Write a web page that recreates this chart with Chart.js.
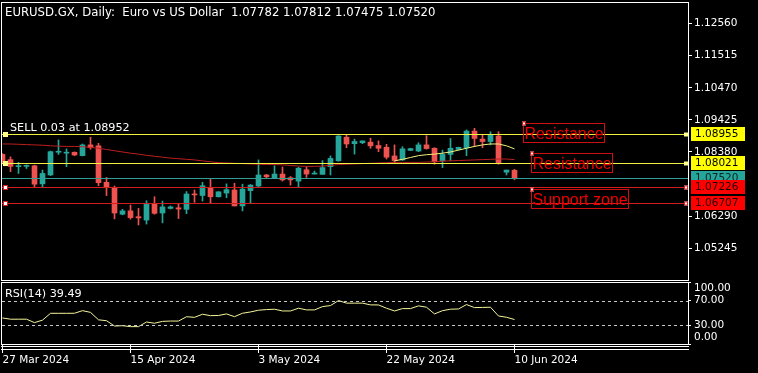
<!DOCTYPE html>
<html>
<head>
<meta charset="utf-8">
<title>EURUSD.GX Daily</title>
<script src="https://cdn.jsdelivr.net/npm/chart.js@4.4.1/dist/chart.umd.min.js"></script>
<style>
	html, body { margin: 0; padding: 0; background: #000; }
	.painel { position: relative; width: 758px; height: 373px; background: #000; overflow: hidden; }
	#graficoPreco { position: absolute; left: 0; top: 0; }
	#graficoRsi { position: absolute; left: 0; top: 281px; }
</style>
</head>
<body>
<div class="painel">
	<canvas id="graficoPreco" width="758" height="282"></canvas>
	<canvas id="graficoRsi" width="758" height="92"></canvas>
</div>
<script>
// daily bars, broker has sunday bars
var dates = ['27 Mar 2024','28 Mar 2024','29 Mar 2024','31 Mar 2024','1 Apr 2024','2 Apr 2024','3 Apr 2024','4 Apr 2024','5 Apr 2024','7 Apr 2024',
	'8 Apr 2024','9 Apr 2024','10 Apr 2024','11 Apr 2024','12 Apr 2024','14 Apr 2024','15 Apr 2024','16 Apr 2024','17 Apr 2024','18 Apr 2024',
	'19 Apr 2024','21 Apr 2024','22 Apr 2024','23 Apr 2024','24 Apr 2024','25 Apr 2024','26 Apr 2024','28 Apr 2024','29 Apr 2024','30 Apr 2024',
	'1 May 2024','2 May 2024','3 May 2024','5 May 2024','6 May 2024','7 May 2024','8 May 2024','9 May 2024','10 May 2024','12 May 2024',
	'13 May 2024','14 May 2024','15 May 2024','16 May 2024','17 May 2024','19 May 2024','20 May 2024','21 May 2024','22 May 2024','23 May 2024',
	'24 May 2024','26 May 2024','27 May 2024','28 May 2024','29 May 2024','30 May 2024','31 May 2024','2 Jun 2024','3 Jun 2024','4 Jun 2024',
	'5 Jun 2024','6 Jun 2024','7 Jun 2024','9 Jun 2024','10 Jun 2024'];

var opens = [1.0830,1.0813,1.0790,1.0791,1.0793,1.0734,1.0763,1.0837,1.0834,1.0837,
	1.0826,1.0861,1.0858,1.0739,1.0722,1.0635,1.0646,1.0627,1.0616,1.0669,
	1.0639,1.0654,1.0656,1.0651,1.0701,1.0696,1.0722,1.0692,1.0704,1.0714,
	1.0662,1.0712,1.0727,1.0763,1.0752,1.0766,1.0754,1.0743,1.0780,1.0766,
	1.0765,1.0790,1.0809,1.0886,1.0865,1.0868,1.0870,1.0859,1.0853,1.0825,
	1.0812,1.0843,1.0841,1.0861,1.0850,1.0809,1.0830,1.0846,1.0852,1.0906,
	1.0880,1.0872,1.0890,1.0772,1.07782];
var highs = [1.0833,1.0822,1.0804,1.0796,1.0795,1.0779,1.0841,1.0877,1.0848,1.0838,
	1.0864,1.0886,1.0866,1.0755,1.0727,1.0651,1.0665,1.0654,1.0679,1.0692,
	1.0678,1.0662,1.0670,1.0709,1.0714,1.0739,1.0752,1.0709,1.0734,1.0736,
	1.0733,1.0732,1.0812,1.0765,1.0793,1.0789,1.0758,1.0788,1.0790,1.0776,
	1.0810,1.0825,1.0891,1.0893,1.0880,1.0874,1.0883,1.0874,1.0863,1.0861,
	1.0855,1.0850,1.0868,1.0891,1.0852,1.0844,1.0882,1.0854,1.0910,1.0915,
	1.0893,1.0904,1.0904,1.0779,1.07812];
var lows = [1.0799,1.0774,1.0768,1.0784,1.0725,1.0723,1.0761,1.0830,1.0790,1.0826,
	1.0825,1.0847,1.0728,1.0696,1.0620,1.0633,1.0619,1.0600,1.0603,1.0635,
	1.0607,1.0652,1.0621,1.0637,1.0674,1.0678,1.0671,1.0691,1.0689,1.0662,
	1.0646,1.0671,1.0725,1.0754,1.0752,1.0743,1.0730,1.0725,1.0755,1.0766,
	1.0765,1.0763,1.0808,1.0852,1.0831,1.0865,1.0850,1.0839,1.0815,1.0803,
	1.0810,1.0842,1.0839,1.0847,1.0798,1.0787,1.0810,1.0844,1.0826,1.0855,
	1.0852,1.0861,1.0798,1.0763,1.07475];
var closes = [1.0801,1.0791,1.0792,1.0793,1.0733,1.0768,1.0839,1.0839,1.0837,1.0828,
	1.0861,1.0852,1.0738,1.0723,1.0639,1.0646,1.0624,1.0623,1.0669,1.0638,
	1.0659,1.0659,1.0652,1.0701,1.0698,1.0728,1.0692,1.0708,1.0715,1.0662,
	1.0717,1.0730,1.0763,1.0757,1.0766,1.0747,1.0747,1.0785,1.0766,1.0768,
	1.0787,1.0817,1.0890,1.0864,1.0872,1.0874,1.0858,1.0850,1.0821,1.0810,
	1.0848,1.0849,1.0861,1.0849,1.0806,1.0830,1.0850,1.0853,1.0906,1.0882,
	1.0872,1.0893,1.0803,1.0779,1.07520];

// slow (red) and fast (yellow) moving averages
var slowMa = [1.0864,1.0864,1.0863,1.0862,1.0861,1.0860,1.0858,1.0857,1.0856,1.0856,
	1.0855,1.0853,1.0850,1.0846,1.0842,1.0838,1.0834,1.0831,1.0827,1.0824,
	1.0821,1.0818,1.0816,1.0814,1.0812,1.0809,1.0806,1.0803,1.0802,1.0801,
	1.0800,1.0799,1.0798,1.0797,1.0797,1.0796,1.0794,1.0792,1.0791,1.0791,
	1.0792,1.0794,1.0797,1.0798,1.0799,1.0800,1.0801,1.0802,1.0803,1.0804,
	1.0804,1.0804,1.0804,1.0805,1.0806,1.0808,1.0809,1.0810,1.0811,1.0812,
	1.0813,1.0814,1.0815,1.0815,1.0813];
var fastMaStart = 49;
var fastMa = [1.0809,1.0814,1.0820,1.0826,1.0829,1.0831,1.0834,1.0838,1.0844,1.0850,
	1.0856,1.0861,1.0864,1.0864,1.0858,1.0848];

var rsi = [42.0,40.0,40.0,40.0,34.5,38.5,49.5,49.5,49.5,49.6,
	53.8,51.0,39.0,37.6,29.0,29.5,28.0,28.0,35.5,33.5,
	36.5,37.0,37.0,44.0,43.0,48.0,45.7,46.0,48.5,44.1,
	49.6,51.7,54.5,55.5,56.1,53.3,53.3,57.7,55.0,55.0,
	60.3,62.0,70.1,65.9,65.9,65.9,63.1,63.0,57.7,53.3,
	57.1,57.1,61.5,59.3,48.5,53.8,56.1,56.5,63.6,58.7,
	59.0,59.3,45.2,43.1,39.49];
var rsiLevels = [70, 30];
var rsiTicks = [0, 30, 70, 100];

var priceTicks = [1.12560, 1.11515, 1.10470, 1.09425, 1.08380, 1.06290, 1.05245];
var dateTickBars = [0, 16, 32, 48, 64];

// horizontal lines on the chart
var levelPrices = [1.08955, 1.08021, 1.07520, 1.07226, 1.06707];
var levelTypes = ['order', 'resistance', 'bid', 'support', 'support'];

// text objects (anchored at bar index / price)
var noteTexts = ['Resistance', 'Resistance', 'Support zone'];
var noteBars = [65, 66, 66];
var notePrices = [1.09331, 1.08356, 1.07186];

var titleText = 'EURUSD.GX, Daily:  Euro vs US Dollar  1.07782 1.07812 1.07475 1.07520';
var orderText = 'SELL 0.03 at 1.08952';
var rsiText = 'RSI(14) 39.49';

var X_MIN = -0.0625, X_MAX = 85.6875;
var P_MIN = 1.04207, P_MAX = 1.13267;

var UP = '#26a69a', DOWN = '#ef5350';
var FONTE_TEXTO = "11.2px 'DejaVu Sans', sans-serif";
var FONTE_TITULO = "11.7px 'DejaVu Sans', sans-serif";
var estilos = {
	order:      { line: '#f0f040', tag: '#ffff00', text: '#000', handle: '#ffff8c', edge: null },
	resistance: { line: '#f0f040', tag: '#ffff00', text: '#000', handle: '#ffff8c', edge: null },
	bid:        { line: '#2f9e93', tag: '#26a69a', text: '#062421', handle: null, edge: null },
	support:    { line: '#d21e1e', tag: '#ff0000', text: '#240000', handle: '#ffffff', edge: '#d21e1e' }
};

Chart.defaults.font.family = "'DejaVu Sans', sans-serif";
Chart.defaults.font.size = 10.5;
Chart.defaults.color = '#ffffff';

function linhaCrisp(scale, v) {
	return Math.round(scale.getPixelForValue(v)) + 0.5;
}

function quadrado(ctx, x, y, size, fill, edge) {
	ctx.fillStyle = fill;
	ctx.fillRect(x, y - size / 2, size, size);
	if (edge) {
		ctx.strokeStyle = edge;
		ctx.strokeRect(x + 0.5, y - size / 2 + 0.5, size - 1, size - 1);
	}
}

var niveisPlugin = {
	id: 'niveis',
	afterDatasetsDraw: function(chart) {
		var ctx = chart.ctx, ca = chart.chartArea, escala = chart.scales.y, ex = chart.scales.x;
		ctx.save();
		ctx.lineWidth = 1;
		levelPrices.forEach(function(price, i) {
			var st = estilos[levelTypes[i]];
			var py = linhaCrisp(escala, price);
			ctx.strokeStyle = st.line;
			ctx.beginPath();
			ctx.moveTo(ca.left, py);
			ctx.lineTo(ca.right, py);
			ctx.stroke();
			if (st.handle) {
				quadrado(ctx, ca.left + 1, py, 5, st.handle, st.edge);
				quadrado(ctx, ca.right - 4, py, 4, st.handle, st.edge);
			}
		});

		// text boxes
		ctx.font = '16px "Liberation Sans", Arial, sans-serif';
		ctx.textAlign = 'left';
		ctx.textBaseline = 'alphabetic';
		noteTexts.forEach(function(txt, i) {
			var x = Math.round(ex.getPixelForValue(noteBars[i]));
			var y = Math.round(escala.getPixelForValue(notePrices[i]));
			var w = Math.round(ctx.measureText(txt).width) + 2;
			ctx.strokeStyle = '#cc1010';
			ctx.strokeRect(x + 0.5, y + 0.5, w, 19);
			ctx.fillStyle = '#f00000';
			ctx.fillText(txt, x + 1.5, y + 16);
			quadrado(ctx, x - 1, y + 0.5, 4, '#ffffff', '#cc1010');
		});
		ctx.restore();
	}
};

var molduraPlugin = {
	id: 'moldura',
	afterDraw: function(chart) {
		var ctx = chart.ctx, ca = chart.chartArea;
		ctx.save();
		ctx.strokeStyle = '#ffffff';
		ctx.lineWidth = 1;
		ctx.strokeRect(ca.left - 0.5, ca.top + 0.5, ca.right - ca.left + 1, ca.bottom - ca.top);
		if (chart.canvas.id === 'graficoRsi') {
			[2, 5].forEach(function(d) {
				ctx.beginPath();
				ctx.moveTo(ca.left - 1, ca.bottom + d + 0.5);
				ctx.lineTo(ca.right + 1, ca.bottom + d + 0.5);
				ctx.stroke();
			});
		}
		ctx.restore();
	}
};

var etiquetasPlugin = {
	id: 'etiquetas',
	afterDraw: function(chart) {
		var ctx = chart.ctx, ca = chart.chartArea, escala = chart.scales.y;
		ctx.save();
		ctx.font = "10.5px 'DejaVu Sans', sans-serif";
		ctx.textAlign = 'left';
		ctx.textBaseline = 'middle';
		[2, 0, 1, 3, 4].forEach(function(i) {
			var st = estilos[levelTypes[i]];
			var py = Math.round(escala.getPixelForValue(levelPrices[i]));
			ctx.fillStyle = st.tag;
			ctx.fillRect(ca.right + 3, py - 7, 54, 14);
			ctx.fillStyle = st.text;
			ctx.fillText(levelPrices[i].toFixed(5), ca.right + 7, py + 0.5);
		});

		ctx.fillStyle = '#ffffff';
		ctx.textBaseline = 'alphabetic';
		ctx.font = FONTE_TITULO;
		ctx.fillText(titleText, 5, 16);
		ctx.font = FONTE_TEXTO;
		ctx.fillText(orderText, 10, linhaCrisp(escala, levelPrices[0]) - 3.5);
		ctx.restore();
	}
};

var rsiTextoPlugin = {
	id: 'rsiTexto',
	afterDatasetsDraw: function(chart) {
		var ctx = chart.ctx, ca = chart.chartArea, escala = chart.scales.y;
		ctx.save();
		ctx.strokeStyle = '#c8c8c8';
		ctx.lineWidth = 1;
		ctx.setLineDash([3, 3]);
		rsiLevels.forEach(function(v) {
			var py = linhaCrisp(escala, v);
			ctx.beginPath();
			ctx.moveTo(ca.left, py);
			ctx.lineTo(ca.right, py);
			ctx.stroke();
		});
		ctx.setLineDash([]);
		ctx.fillStyle = '#ffffff';
		ctx.font = FONTE_TEXTO;
		ctx.textBaseline = 'alphabetic';
		ctx.fillText(rsiText, 5, ca.top + 15);
		ctx.restore();
	}
};

var coresVela = closes.map(function(c, i) { return c >= opens[i] ? UP : DOWN; });
var corpos = dates.map(function(d, i) { return { x: i, y: [opens[i], closes[i]] }; });
var pavios = dates.map(function(d, i) { return { x: i, y: [lows[i], highs[i]] }; });
var mediaLenta = slowMa.map(function(v, i) { return { x: i, y: v }; });
var mediaRapida = fastMa.map(function(v, i) { return { x: fastMaStart + i, y: v }; });
var pontosRsi = rsi.map(function(v, i) { return { x: i, y: v }; });

var graficoPreco = new Chart(document.getElementById('graficoPreco'), {
	type: 'bar',
	data: {
		datasets: [{
			label: 'wick', data: pavios, backgroundColor: coresVela,
			barThickness: 1, grouped: false, order: 3, clip: 0
		}, {
			label: 'body', data: corpos, backgroundColor: coresVela,
			barThickness: 5, grouped: false, minBarLength: 1, order: 2, clip: 0
		}, {
			type: 'line', label: 'MA slow', data: mediaLenta, borderColor: '#bd1f1f',
			borderWidth: 1, pointRadius: 0, tension: 0, order: 1, clip: 0
		}, {
			type: 'line', label: 'MA fast', data: mediaRapida, borderColor: '#f2f27a',
			borderWidth: 1, pointRadius: 0, tension: 0, order: 0, clip: 0
		}]
	},
	options: {
		responsive: false,
		animation: false,
		devicePixelRatio: 1,
		events: [],
		layout: { padding: { left: 2, top: 2, right: 0, bottom: 2 } },
		plugins: { legend: { display: false }, tooltip: { enabled: false } },
		scales: {
			x: { type: 'linear', display: false, min: X_MIN, max: X_MAX, offset: false },
			y: {
				position: 'right', min: P_MIN, max: P_MAX,
				afterFit: function(s) { s.width = 70; s.paddingTop = 0; s.paddingBottom = 0; },
				afterBuildTicks: function(s) { s.ticks = priceTicks.map(function(v) { return { value: v }; }); },
				grid: { drawOnChartArea: false, tickLength: 4, color: '#ffffff' },
				border: { display: false },
				ticks: { color: '#ffffff', padding: 2, autoSkip: false, callback: function(v) { return v.toFixed(5); } }
			}
		}
	},
	plugins: [niveisPlugin, molduraPlugin, etiquetasPlugin]
});

var graficoRsi = new Chart(document.getElementById('graficoRsi'), {
	type: 'line',
	data: {
		datasets: [{
			label: 'RSI(14)', data: pontosRsi, borderColor: '#f5f59a',
			borderWidth: 1, pointRadius: 0, tension: 0, clip: 0
		}]
	},
	options: {
		responsive: false,
		animation: false,
		devicePixelRatio: 1,
		events: [],
		layout: { padding: { left: 2, top: 1, right: 0, bottom: 0 } },
		plugins: { legend: { display: false }, tooltip: { enabled: false } },
		scales: {
			x: {
				type: 'linear', min: X_MIN, max: X_MAX, offset: false,
				afterFit: function(s) { s.height = 29; s.paddingLeft = 0; s.paddingRight = 0; },
				afterBuildTicks: function(s) { s.ticks = dateTickBars.map(function(v) { return { value: v }; }); },
				grid: { drawOnChartArea: false, tickLength: 9, color: '#ffffff' },
				border: { display: false },
				ticks: {
					color: '#ffffff', padding: 1, align: 'start', maxRotation: 0, autoSkip: false,
					callback: function(v) { return dates[v]; }
				}
			},
			y: {
				position: 'right', min: 0, max: 100,
				afterFit: function(s) { s.width = 70; s.paddingTop = 0; s.paddingBottom = 0; },
				afterBuildTicks: function(s) { s.ticks = rsiTicks.map(function(v) { return { value: v }; }); },
				grid: { drawOnChartArea: false, tickLength: 3, color: '#ffffff' },
				border: { display: false },
				ticks: {
					color: '#ffffff', padding: 3, autoSkip: false,
					callback: function(v) {
						if (v === 100) { return ['', '100.00']; }
						if (v === 0) { return ['0.00', '']; }
						return v.toFixed(2);
					}
				}
			}
		}
	},
	plugins: [rsiTextoPlugin, molduraPlugin]
});
</script>
</body>
</html>
